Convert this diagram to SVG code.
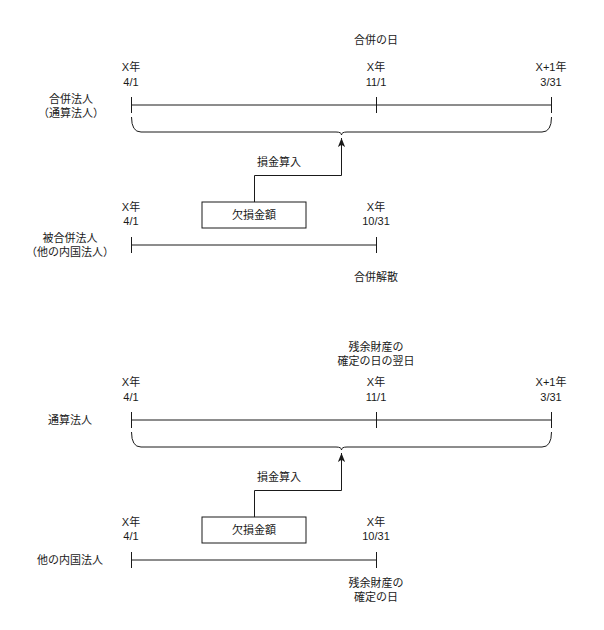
<svg xmlns="http://www.w3.org/2000/svg" width="604" height="630" viewBox="0 0 604 630">
<style>
text { font-family: "Liberation Sans", "Noto Sans CJK JP", sans-serif; font-size: 11px; fill: #1a1a1a; text-anchor: middle; dominant-baseline: central; }
.ln { stroke: #1a1a1a; stroke-width: 1; fill: none; }
.box { stroke: #1a1a1a; stroke-width: 1; fill: #ffffff; }
</style>
<defs>
<marker id="arr" viewBox="0 0 10 8" refX="10" refY="4" markerWidth="9" markerHeight="7.2" markerUnits="userSpaceOnUse" orient="auto">
<path d="M0,0 L10,4 L0,8 L2.5,4 Z" fill="#1a1a1a"/>
</marker>
</defs>
<rect width="604" height="630" fill="#ffffff"/>

<!-- Section 1 -->
<g id="label-merger-day"><text x="376" y="40">合併の日</text></g>
<g id="date-1a"><text x="131" y="67">X年</text><text x="131" y="82">4/1</text></g>
<g id="date-1b"><text x="376" y="67">X年</text><text x="376" y="82">11/1</text></g>
<g id="date-1c"><text x="551" y="67">X+1年</text><text x="551" y="82">3/31</text></g>
<g id="entity-merging"><text x="71" y="99">合併法人</text><text x="71" y="113">（通算法人）</text></g>
<g id="timeline-1">
<path class="ln" d="M131,105 H551 M131.5,97 V113 M376.5,97 V113 M551.5,97 V113"/>
</g>
<g id="brace-1">
<path class="ln" d="M131.5,117 Q131.5,132 141,132 H336 Q341.5,132 341.5,135 Q341.5,132 347,132 H542 Q551.5,132 551.5,117"/>
</g>
<g id="label-deduct-1"><text x="279" y="162">損金算入</text></g>
<g id="box-loss-1"><rect class="box" x="202" y="202" width="104" height="26"/><text x="254" y="215">欠損金額</text></g>
<g id="date-1d"><text x="131" y="207">X年</text><text x="131" y="221">4/1</text></g>
<g id="date-1e"><text x="376" y="207">X年</text><text x="376" y="221">10/31</text></g>
<g id="entity-merged"><text x="70" y="238">被合併法人</text><text x="70" y="252">（他の内国法人）</text></g>
<g id="timeline-2">
<path class="ln" d="M131,245 H376 M131.5,237 V253 M376.5,237 V253"/>
</g>
<g id="label-dissolve"><text x="376" y="277">合併解散</text></g>

<!-- Section 2 -->
<g id="label-residual-next"><text x="376" y="347">残余財産の</text><text x="376" y="361">確定の日の翌日</text></g>
<g id="date-2a"><text x="131" y="382">X年</text><text x="131" y="397">4/1</text></g>
<g id="date-2b"><text x="376" y="382">X年</text><text x="376" y="397">11/1</text></g>
<g id="date-2c"><text x="551" y="382">X+1年</text><text x="551" y="397">3/31</text></g>
<g id="entity-group"><text x="70" y="420">通算法人</text></g>
<g id="timeline-3">
<path class="ln" d="M131,420 H551 M131.5,412 V428 M376.5,412 V428 M551.5,412 V428"/>
</g>
<g id="brace-2">
<path class="ln" d="M131.5,432 Q131.5,447 141,447 H336 Q341.5,447 341.5,450 Q341.5,447 347,447 H542 Q551.5,447 551.5,432"/>
</g>
<g id="label-deduct-2"><text x="279" y="477">損金算入</text></g>
<g id="box-loss-2"><rect class="box" x="202" y="517" width="104" height="26"/><text x="254" y="530">欠損金額</text></g>
<g id="date-2d"><text x="131" y="522">X年</text><text x="131" y="536">4/1</text></g>
<g id="date-2e"><text x="376" y="522">X年</text><text x="376" y="536">10/31</text></g>
<g id="entity-other"><text x="70" y="560">他の内国法人</text></g>
<g id="timeline-4">
<path class="ln" d="M131,560 H376 M131.5,552 V568 M376.5,552 V568"/>
</g>
<g id="label-residual"><text x="376" y="583">残余財産の</text><text x="376" y="597">確定の日</text></g>

<g id="connectors">
<path class="ln" d="M254.5,202 V175.5 H341.5 V138" marker-end="url(#arr)"/>
<path class="ln" d="M254.5,517 V490.5 H341.5 V453" marker-end="url(#arr)"/>
</g>
</svg>
